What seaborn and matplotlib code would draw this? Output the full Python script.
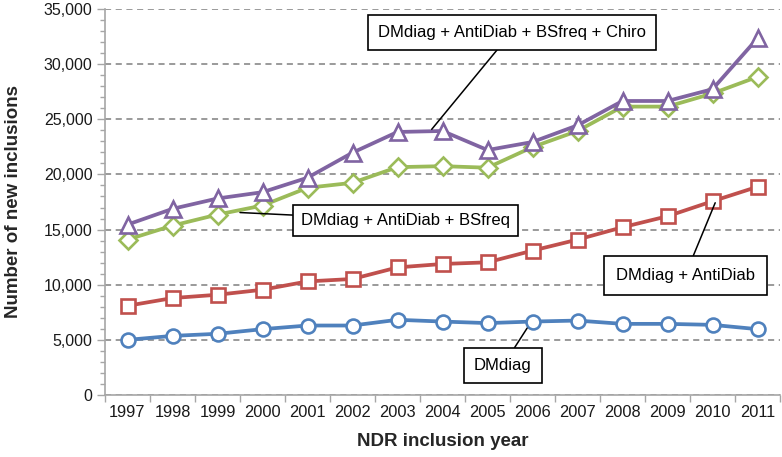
import numpy as np
import pandas as pd
import matplotlib
matplotlib.use("Agg")
import matplotlib.pyplot as plt
import seaborn as sns
from matplotlib.ticker import MultipleLocator, FuncFormatter

# ---- data ----
years = [1997, 1998, 1999, 2000, 2001, 2002, 2003, 2004,
         2005, 2006, 2007, 2008, 2009, 2010, 2011]

dmdiag = [5000, 5360, 5550, 5970, 6300, 6300, 6820, 6660,
          6520, 6660, 6750, 6450, 6450, 6360, 5970]
antidiab = [8090, 8790, 9090, 9545, 10300, 10520, 11570, 11880,
            12030, 13090, 14090, 15210, 16210, 17570, 18880]
bsfreq = [14090, 15360, 16360, 17180, 18790, 19240, 20660, 20750,
          20610, 22480, 23940, 26150, 26150, 27340, 28850]
chiro = [15450, 16880, 17820, 18390, 19700, 21970, 23850, 23940,
         22210, 22940, 24450, 26660, 26660, 27730, 32340]

series_names = ["DMdiag", "DMdiag + AntiDiab", "DMdiag + AntiDiab + BSfreq",
                "DMdiag + AntiDiab + BSfreq + Chiro"]
series_values = [dmdiag, antidiab, bsfreq, chiro]
series_colors = ["#4F81BD", "#C0504D", "#9BBB59", "#8064A2"]
series_markers = ["o", "s", "D", "^"]
marker_sizes = [10, 10, 9, 11]

# label text position, point the callout touches, box padding
callouts = [
    ("DMdiag", (2005.34, 2640), (2005.88, 6060), 0.6),
    ("DMdiag + AntiDiab", (2009.39, 10820), (2010.06, 17430), 0.72),
    ("DMdiag + AntiDiab + BSfreq", (2003.18, 15820), (1999.5, 16545), 0.48),
    ("DMdiag + AntiDiab + BSfreq + Chiro", (2005.54, 32910), (2003.76, 24090), 0.6),
]

df = pd.DataFrame({
    "year": years * len(series_names),
    "value": sum(series_values, []),
    "series": np.repeat(series_names, len(years)),
})

# ---- style ----
sns.set_theme(style="white")
plt.rcParams["font.family"] = ["Liberation Sans", "DejaVu Sans"]

fig = plt.figure(figsize=(7.82, 4.57), dpi=100)
ax = fig.add_axes([105 / 782, 1 - 395 / 457, 675 / 782, 386 / 457])

for name, col, mk, ms in zip(series_names, series_colors, series_markers, marker_sizes):
    sns.lineplot(
        data=df[df["series"] == name], x="year", y="value", ax=ax,
        color=col, linewidth=2.7, marker=mk, markersize=ms,
        markerfacecolor="white", markeredgecolor=col, markeredgewidth=1.9,
        errorbar=None, legend=False, zorder=3,
    )

for text, xy_text, xy_pt, pad in callouts:
    ax.annotate(
        text, xy=xy_pt, xytext=xy_text, ha="center", va="center",
        fontsize=12, color="black", zorder=5,
        bbox=dict(boxstyle=f"square,pad={pad}", fc="white", ec="black", lw=1.2),
        arrowprops=dict(arrowstyle="-", color="black", lw=1.1,
                        shrinkA=0, shrinkB=0),
    )

# axes
ax.set_xlim(years[0] - 0.5, years[-1] + 0.5)
ax.set_ylim(0, 35000)
ax.set_xticks(years)
ax.set_xticklabels([str(y) for y in years])
ax.set_xticks(np.arange(years[0] - 0.5, years[-1] + 1), minor=True)
ax.yaxis.set_major_locator(MultipleLocator(5000))
ax.yaxis.set_minor_locator(MultipleLocator(1000))
ax.yaxis.set_major_formatter(FuncFormatter(lambda v, p: f"{int(v):,}"))

ax.tick_params(axis="x", which="major", length=0, pad=7, labelsize=11.8, colors="#1a1a1a")
ax.tick_params(axis="x", which="minor", length=5, width=1, color="#a6a6a6", bottom=True)
ax.tick_params(axis="y", which="major", length=6, width=1, color="#a6a6a6",
               labelsize=11.5, labelcolor="#1a1a1a", pad=3, left=True)
ax.tick_params(axis="y", which="minor", length=3.5, width=1, color="#a6a6a6", left=True)

ax.yaxis.grid(True, which="major", linestyle=(0, (4, 3)), color="#7f7f7f", linewidth=1.1)
ax.xaxis.grid(False)
ax.set_axisbelow(True)

for side in ["top", "right"]:
    ax.spines[side].set_visible(False)
for side in ["left", "bottom"]:
    ax.spines[side].set_color("#a6a6a6")
    ax.spines[side].set_linewidth(1.2)

ax.set_xlabel("NDR inclusion year", fontsize=13.5, fontweight="bold")
ax.set_ylabel("Number of new inclusions", fontsize=13.5, fontweight="bold")
ax.xaxis.set_label_coords(0.5, -0.098)
ax.yaxis.set_label_coords(-0.123, 0.5)

fig.savefig("out.png", dpi=100)
